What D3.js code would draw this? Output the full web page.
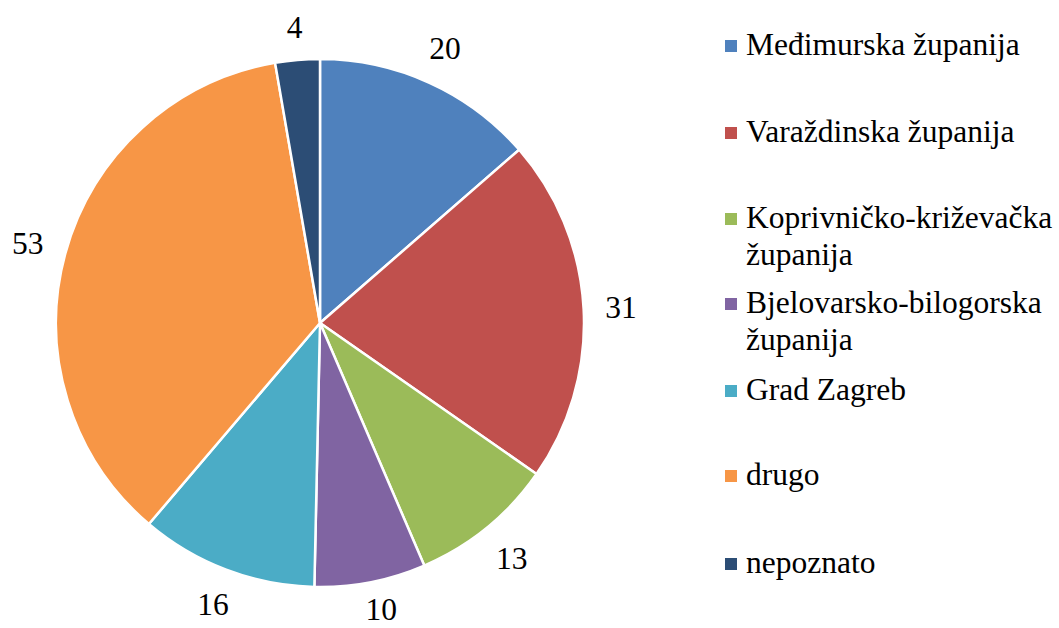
<!DOCTYPE html>
<html><head><meta charset="utf-8">
<script src="https://cdn.jsdelivr.net/npm/d3@7"></script>
<style>body{margin:0;background:#fff}svg{display:block}</style>
</head><body>
<svg id="c" width="1059" height="628"></svg>
<script>
const categories = ["Međimurska županija","Varaždinska županija","Koprivničko-križevačka županija","Bjelovarsko-bilogorska županija","Grad Zagreb","drugo","nepoznato"];
const legendLines = [["Međimurska županija"],["Varaždinska županija"],["Koprivničko-križevačka","županija"],["Bjelovarsko-bilogorska","županija"],["Grad Zagreb"],["drugo"],["nepoznato"]];
const values = [20,31,13,10,16,53,4];
const colors = ["#4F81BD","#C0504D","#9BBB59","#8064A2","#4BACC6","#F79646","#2C4D75"];
const legendBaselines = [55,142,228,313,400,485,573];

const W = 1059, H = 628;
const svg = d3.select("#c");
const cx = 320, cy = 323, r = 264, gap = 21, halfH = 11;
const setFont = sel => sel.style("font-family", '"Liberation Serif"').style("font-size","31.5px").style("fill","#000");
const pie = d3.pie().sort(null).value(d=>d)(values);
const arc = d3.arc().innerRadius(0).outerRadius(r);
const g = svg.append("g").attr("transform",`translate(${cx},${cy})`);
g.selectAll("path").data(pie).join("path")
  .attr("d",arc).attr("fill",(d,i)=>colors[i])
  .attr("stroke","#fff").attr("stroke-width",2.5).attr("stroke-linejoin","round");

g.selectAll("text").data(pie).join("text")
  .attr("text-anchor","middle").attr("dy","0.34em")
  .call(setFont)
  .text(d=>d.data)
  .attr("transform",function(d){
    const a = (d.startAngle + d.endAngle)/2;
    const bb = this.getBBox();
    const R = r + gap + Math.abs(Math.sin(a))*bb.width/2 + Math.abs(Math.cos(a))*halfH;
    let x = R*Math.sin(a), y = -R*Math.cos(a);
    const bottom = cy + y + bb.y + bb.height;
    if (bottom > H - 1) { const s = bottom - (H - 1); y -= s; x += s*0.6; }
    return `translate(${x},${y})`;
  });

const lg = svg.append("g");
categories.forEach((c,i)=>{
  lg.append("rect").attr("x",725).attr("y",legendBaselines[i]-15).attr("width",12).attr("height",12).attr("fill",colors[i]);
  const t = lg.append("text").attr("x",746).attr("y",legendBaselines[i]).call(setFont);
  legendLines[i].forEach((l,j)=>t.append("tspan").attr("x",746).attr("dy",j?37:0).text(l));
});
</script>
</body></html>
